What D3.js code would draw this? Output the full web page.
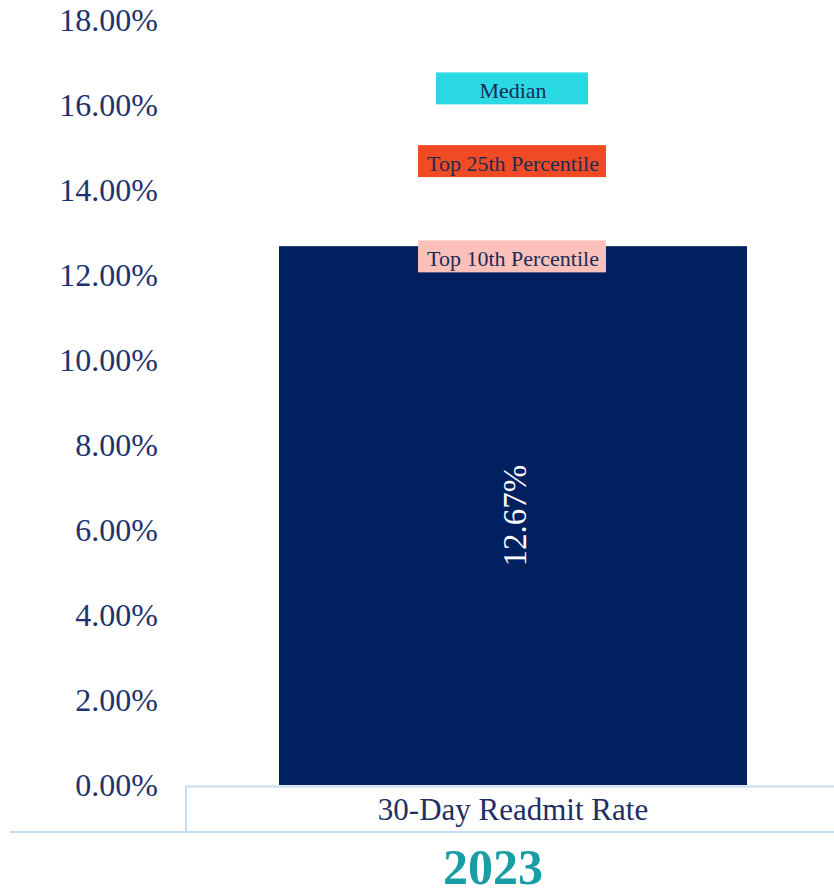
<!DOCTYPE html>
<html><head><meta charset="utf-8">
<script src="https://cdn.jsdelivr.net/npm/d3@7/dist/d3.min.js"></script>
<style>body{margin:0;background:#fff;overflow:hidden}svg{display:block}</style>
</head><body>
<script>
const categories = ["30-Day Readmit Rate"];
const values = [12.67];
const yTicks = [0, 2, 4, 6, 8, 10, 12, 14, 16, 18];
const benchmarkNames = ["Median", "Top 25th Percentile", "Top 10th Percentile"];
const benchmarkValues = [16.38, 14.67, 12.43];
const benchmarkColors = ["#2bd9e5", "#f04b24", "#fbc0b9"];
const yearLabel = "2023";

const W = 834, H = 896;
const svg = d3.select("body").append("svg").attr("width", W).attr("height", H);
const font = "'Liberation Serif', 'DejaVu Serif', serif";

const y = d3.scaleLinear().domain([0, 18]).range([785, 19.5]);
const x = d3.scaleBand().domain(categories).range([279, 747]).padding(0);

// y axis labels
const yAxis = d3.axisLeft(y).tickValues(yTicks).tickSize(0).tickPadding(0)
  .tickFormat(d => d.toFixed(2) + "%");
const ga = svg.append("g").attr("transform", "translate(158,0)").call(yAxis);
ga.select(".domain").remove();
ga.selectAll("text").attr("font-family", font).attr("font-size", 32).attr("fill", "#1e336e").attr("dy", "0.33em");

// bars
svg.selectAll("rect.bar").data(values).join("rect").attr("class", "bar")
  .attr("x", (d, i) => x(categories[i]))
  .attr("width", x.bandwidth())
  .attr("y", d => y(d)).attr("height", d => y(0) - y(d))
  .attr("fill", "#002060");

// bar value label
svg.selectAll("text.val").data(values).join("text").attr("class", "val")
  .attr("transform", (d, i) => `translate(${x(categories[i]) + x.bandwidth() / 2 + 2},${(y(d) + y(0)) / 2}) rotate(-90)`)
  .attr("text-anchor", "middle").attr("dy", "0.33em")
  .attr("font-family", font).attr("font-size", 33).attr("fill", "#ffffff")
  .text(d => d.toFixed(2) + "%");

// benchmark labels
const bw = [152, 188, 188];
const bg = svg.append("g");
benchmarkNames.forEach((n, i) => {
  const cx = 512, cy = y(benchmarkValues[i]);
  bg.append("rect").attr("x", cx - bw[i] / 2).attr("y", cy - 16).attr("width", bw[i]).attr("height", 32)
    .attr("fill", benchmarkColors[i]);
  bg.append("text").attr("x", cx + 1).attr("y", cy + 2).attr("dy", "0.35em").attr("text-anchor", "middle")
    .attr("font-family", font).attr("font-size", 22).attr("fill", "#1c2b55").text(n);
});

// category box
const lineC = "#c6ddf5";
svg.append("line").attr("x1", 186).attr("x2", 834).attr("y1", 786.5).attr("y2", 786.5).attr("stroke", lineC).attr("stroke-width", 2);
svg.append("line").attr("x1", 186).attr("x2", 186).attr("y1", 786).attr("y2", 833).attr("stroke", lineC).attr("stroke-width", 2);
svg.append("line").attr("x1", 10).attr("x2", 834).attr("y1", 832).attr("y2", 832).attr("stroke", lineC).attr("stroke-width", 2);
svg.selectAll("text.cat").data(categories).join("text").attr("class", "cat")
  .attr("x", 513).attr("y", 809).attr("dy", "0.35em").attr("text-anchor", "middle")
  .attr("font-family", font).attr("font-size", 31).attr("fill", "#1e2f63").text(d => d);

svg.append("text").attr("x", 493).attr("y", 884).attr("text-anchor", "middle")
  .attr("font-family", font).attr("font-weight", "bold").attr("font-size", 50).attr("fill", "#1a9da6").text(yearLabel);
</script>
</body></html>
